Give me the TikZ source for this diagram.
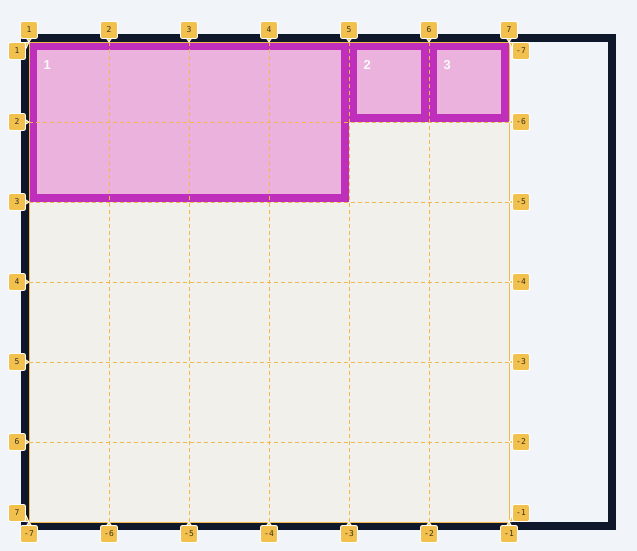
\documentclass[tikz,border=0pt]{standalone}
\usepackage{fontspec}
\setmainfont{Liberation Sans}
\newfontfamily\badgefont{DejaVu Sans Mono}
\usetikzlibrary{calc}
\definecolor{pagebg}{HTML}{F1F4F9}
\definecolor{framecol}{HTML}{0F172A}
\definecolor{gridbg}{HTML}{F1F0EA}
\definecolor{itemborder}{HTML}{C02FBC}
\definecolor{itemfill}{HTML}{EBB2DE}
\definecolor{linecol}{HTML}{F2B84A}
\definecolor{badgecol}{HTML}{F2C04D}
\definecolor{badgetext}{HTML}{3A3020}
\tikzset{
  badge/.style={fill=badgecol, draw=white, line width=0.9pt, rounded corners=2pt,
    minimum size=17pt, inner sep=0pt, font=\badgefont\fontsize{8}{8}\selectfont, text=badgetext},
  ptr/.style={fill=badgecol, draw=white, line width=0.9pt, line join=round},
  itembox/.style={fill=itemborder},
  iteminner/.style={fill=itemfill},
  itemlabel/.style={anchor=base west, inner sep=0pt, text=white!96!gray,
    font=\bfseries\fontsize{13}{13}\selectfont},
  gridline/.style={draw=linecol, line width=0.9pt, dash pattern=on 4pt off 3pt},
}
\newcommand{\pointer}[3]{% center, tip, halfwidth
  \filldraw[ptr] ($(#1)!#3!90:(#2)$) -- (#2) -- ($(#1)!#3!-90:(#2)$) -- cycle;}
\begin{document}
\begin{tikzpicture}[x=1pt,y=-1pt]
\useasboundingbox (0,0) rectangle (637,551);
\fill[pagebg] (0,0) rectangle (637,551);
% frame
\draw[framecol, line width=8pt] (25,38) rectangle (612,526);
% grid area
\fill[gridbg] (29,42) rectangle (509,522);
% items
\fill[itembox] (29,42) rectangle (349,202);
\fill[iteminner] (37,50) rectangle (341,194);
\fill[itembox] (349,42) rectangle (429,122);
\fill[iteminner] (357,50) rectangle (421,114);
\fill[itembox] (429,42) rectangle (509,122);
\fill[iteminner] (437,50) rectangle (501,114);
\node[itemlabel] (lab1) at (43.5,70) {1};
\node[itemlabel] (lab2) at (363.5,70) {2};
\node[itemlabel] (lab3) at (443.5,70) {3};
% grid lines
\foreach \x in {109,189,269,349,429}
  \draw[gridline] (\x,42) -- (\x,522);
\foreach \y in {122,202,282,362,442}
  \draw[gridline] (29,\y) -- (509,\y);
\draw[linecol, line width=0.9pt] (29,42) rectangle (509,522);
% top and bottom badges
\foreach \i [evaluate=\i as \x using {29+80*(\i-1)}, evaluate=\i as \b using {int(\i-8)}] in {1,...,7} {
  \coordinate (tt\i) at (\x,42);
  \coordinate (bt\i) at (\x,522);
  \coordinate (tc\i) at (\x,30);
  \coordinate (bc\i) at (\x,534);
  \pointer{tc\i}{tt\i}{8pt}
  \node[badge] (T\i) at (tc\i) {\i};
  \pointer{bc\i}{bt\i}{8pt}
  \node[badge] (B\i) at (bc\i) {\b};
}
% left and right badges
\foreach \i/\cy/\ly in {1/51/42, 2/122/122, 3/202/202, 4/282/282, 5/362/362, 6/442/442, 7/513/522} {
  \pgfmathtruncatemacro{\r}{\i-8}
  \coordinate (lt\i) at (29,\ly);
  \coordinate (rt\i) at (509,\ly);
  \coordinate (lc\i) at (17,\cy);
  \coordinate (rc\i) at (521,\cy);
  \pointer{lc\i}{lt\i}{8pt}
  \node[badge] (L\i) at (lc\i) {\i};
  \pointer{rc\i}{rt\i}{8pt}
  \node[badge] (R\i) at (rc\i) {\r};
}
\end{tikzpicture}
\end{document}
